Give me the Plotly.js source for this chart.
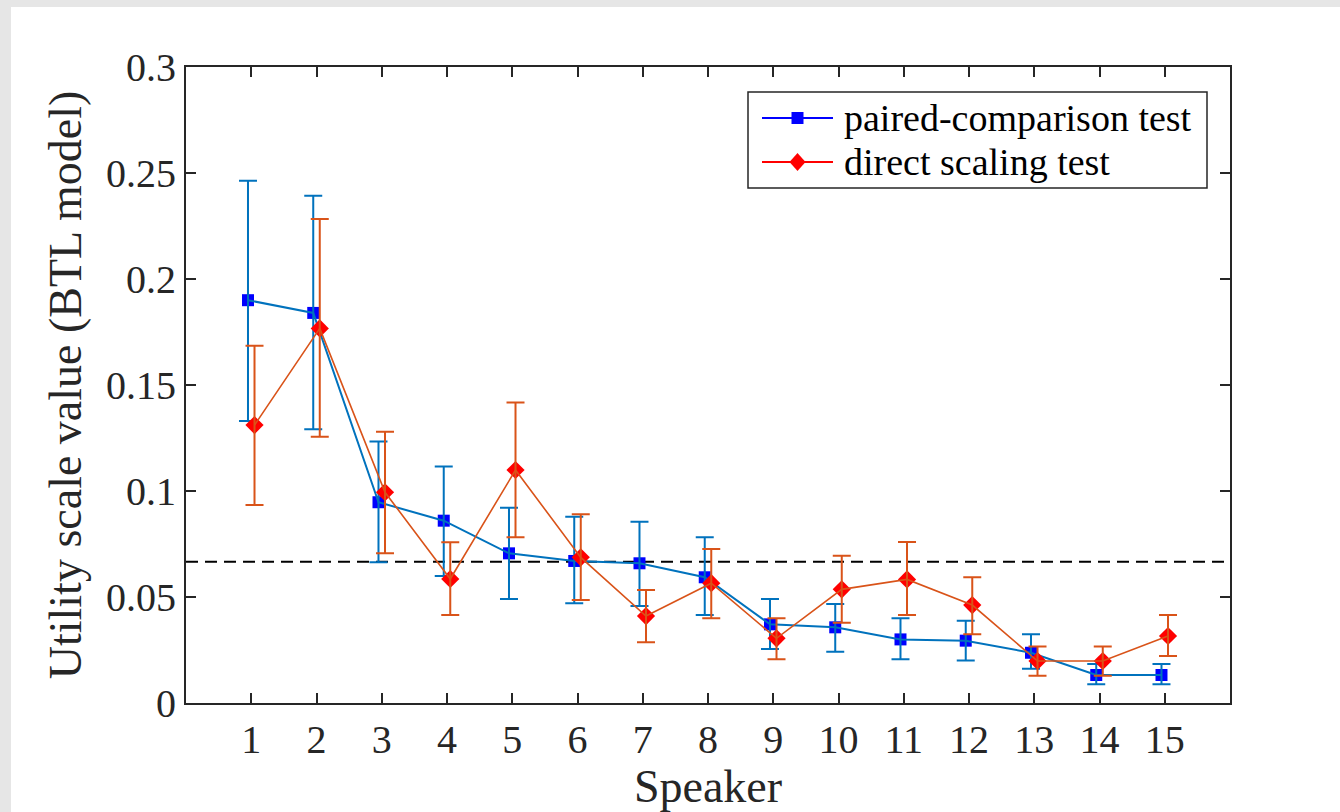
<!DOCTYPE html>
<html>
<head>
<meta charset="utf-8">
<script src="https://cdn.plot.ly/plotly-3.0.1.min.js"></script>
<style>
  html, body { margin: 0; padding: 0; background: #e6e6e6; width: 1340px; height: 812px; overflow: hidden; }
  #chart { position: absolute; left: 11px; top: 7px; width: 1329px; height: 805px; background: #ffffff; }
</style>
</head>
<body>
<div id="chart"></div>
<script>
// ---- data ----
const speakers = [1, 2, 3, 4, 5, 6, 7, 8, 9, 10, 11, 12, 13, 14, 15];

const pairedValue = [0.1900, 0.1840, 0.0947, 0.0860, 0.0706, 0.0670, 0.0659, 0.0593, 0.0371, 0.0357, 0.0300, 0.0294, 0.0237, 0.0132, 0.0132];
const pairedUpper = [0.2464, 0.2393, 0.1233, 0.1115, 0.0921, 0.0879, 0.0855, 0.0782, 0.0491, 0.0467, 0.0400, 0.0388, 0.0324, 0.0184, 0.0184];
const pairedLower = [0.1330, 0.1291, 0.0664, 0.0599, 0.0491, 0.0470, 0.0458, 0.0415, 0.0255, 0.0242, 0.0206, 0.0200, 0.0162, 0.0088, 0.0088];

const directValue = [0.1311, 0.1767, 0.0994, 0.0585, 0.1099, 0.0687, 0.0410, 0.0565, 0.0305, 0.0536, 0.0583, 0.0462, 0.0198, 0.0198, 0.0316];
const directUpper = [0.1685, 0.2283, 0.1280, 0.0758, 0.1417, 0.0890, 0.0533, 0.0726, 0.0400, 0.0695, 0.0759, 0.0593, 0.0266, 0.0266, 0.0415];
const directLower = [0.0934, 0.1256, 0.0706, 0.0415, 0.0782, 0.0486, 0.0286, 0.0400, 0.0206, 0.0379, 0.0415, 0.0324, 0.0129, 0.0129, 0.0222];

const seriesNames = ['paired-comparison test', 'direct scaling test'];
const chanceLevel = 1 / 15;

const yTickVals = [0, 0.05, 0.1, 0.15, 0.2, 0.25, 0.3];
const yTickText = ['0', '0.05', '0.1', '0.15', '0.2', '0.25', '0.3'];

// ---- styling ----
const FONT = '"Liberation Serif", "Times New Roman", serif';
const AX = '#262626';
const dodge = 0.05;
const xBlue = speakers.map(s => s - dodge);
const xRed = speakers.map(s => s + dodge);
const diff = (a, b) => a.map((v, i) => +(v - b[i]).toFixed(5));

// plot area in page pixels (div offset 11,7)
const M = { l: 175, r: 110, t: 60, b: 109 };
const W = 1329, H = 805;
const PW = W - M.l - M.r, PH = H - M.t - M.b;
const px = p => (p - 11 - M.l) / PW;          // page x -> paper x
const py = p => 1 - (p - 7 - M.t) / PH;       // page y -> paper y

const traces = [
  { // blue markers
    x: xBlue, y: pairedValue, type: 'scatter', mode: 'markers', showlegend: false, hoverinfo: 'skip',
    marker: { symbol: 'square', size: 12, color: '#0000ff', line: { width: 0 } }
  },
  { // blue line + error bars
    x: xBlue, y: pairedValue, type: 'scatter', mode: 'lines', showlegend: false,
    line: { color: '#0072bd', width: 2 },
    error_y: { type: 'data', symmetric: false, array: diff(pairedUpper, pairedValue), arrayminus: diff(pairedValue, pairedLower),
               color: '#0072bd', thickness: 2, width: 9 }
  },
  { // red markers
    x: xRed, y: directValue, type: 'scatter', mode: 'markers', showlegend: false, hoverinfo: 'skip',
    marker: { symbol: 'diamond', size: 14, color: '#ff0000', line: { width: 0 } }
  },
  { // red line + error bars
    x: xRed, y: directValue, type: 'scatter', mode: 'lines', showlegend: false,
    line: { color: '#d95319', width: 1.6 },
    error_y: { type: 'data', symmetric: false, array: diff(directUpper, directValue), arrayminus: diff(directValue, directLower),
               color: '#d95319', thickness: 2, width: 9 }
  }
];

// ---- hand-built legend (box, line samples, symbols, labels) ----
const LB = { x0: 748, x1: 1207, y0: 92, y1: 188 };
const rows = [118, 162];
const sampleX0 = 762, sampleX1 = 833, symX = 797.5;
const legendShapes = [
  { type: 'rect', xref: 'paper', yref: 'paper', x0: px(LB.x0), x1: px(LB.x1), y0: py(LB.y0), y1: py(LB.y1),
    line: { color: AX, width: 1.5 }, fillcolor: '#ffffff', layer: 'above' },
  { type: 'line', xref: 'paper', yref: 'paper', x0: px(sampleX0), x1: px(sampleX1), y0: py(rows[0]), y1: py(rows[0]),
    line: { color: '#0000ff', width: 2 }, layer: 'above' },
  { type: 'rect', xref: 'paper', yref: 'paper', x0: px(symX - 6), x1: px(symX + 6), y0: py(rows[0] - 6), y1: py(rows[0] + 6),
    line: { width: 0 }, fillcolor: '#0000ff', layer: 'above' },
  { type: 'line', xref: 'paper', yref: 'paper', x0: px(sampleX0), x1: px(sampleX1), y0: py(rows[1]), y1: py(rows[1]),
    line: { color: '#ff0000', width: 2 }, layer: 'above' },
  { type: 'path', xref: 'paper', yref: 'paper',
    path: `M ${px(symX - 8)} ${py(rows[1])} L ${px(symX)} ${py(rows[1] - 9)} L ${px(symX + 8)} ${py(rows[1])} L ${px(symX)} ${py(rows[1] + 9)} Z`,
    line: { width: 0 }, fillcolor: '#ff0000', layer: 'above' }
];
const legendLabels = seriesNames.map((name, i) => ({
  text: name, xref: 'paper', yref: 'paper', x: px(842), y: py(rows[i]),
  xanchor: 'left', yanchor: 'middle', showarrow: false,
  font: { family: FONT, size: 38, color: '#000000' }
}));

const layout = {
  width: W, height: H,
  margin: M,
  paper_bgcolor: '#ffffff', plot_bgcolor: '#ffffff',
  font: { family: FONT, color: AX, size: 40 },
  xaxis: {
    range: [0, 16], tickvals: speakers, ticktext: speakers.map(String),
    ticks: 'inside', ticklen: 10, tickwidth: 2, tickcolor: AX,
    showline: true, linecolor: AX, linewidth: 2, mirror: 'ticks',
    showgrid: false, zeroline: false,
    tickfont: { family: FONT, size: 40, color: AX },
    title: { text: 'Speaker', font: { family: FONT, size: 46, color: AX }, standoff: 2 }
  },
  yaxis: {
    range: [0, 0.3], tickvals: yTickVals, ticktext: yTickText,
    ticks: 'inside', ticklen: 10, tickwidth: 2, tickcolor: AX,
    showline: true, linecolor: AX, linewidth: 2, mirror: 'ticks',
    showgrid: false, zeroline: false,
    tickfont: { family: FONT, size: 40, color: AX },
    title: { text: 'Utility scale value (BTL model)', font: { family: FONT, size: 46, color: AX }, standoff: 10 }
  },
  shapes: [{
    type: 'line', xref: 'paper', x0: 0, x1: 1, yref: 'y', y0: chanceLevel, y1: chanceLevel,
    line: { color: '#000000', width: 2, dash: '12px,7px' }, layer: 'below'
  }].concat(legendShapes),
  annotations: legendLabels,
  showlegend: false
};

Plotly.newPlot('chart', traces, layout, { displayModeBar: false, staticPlot: true });
</script>
</body>
</html>
